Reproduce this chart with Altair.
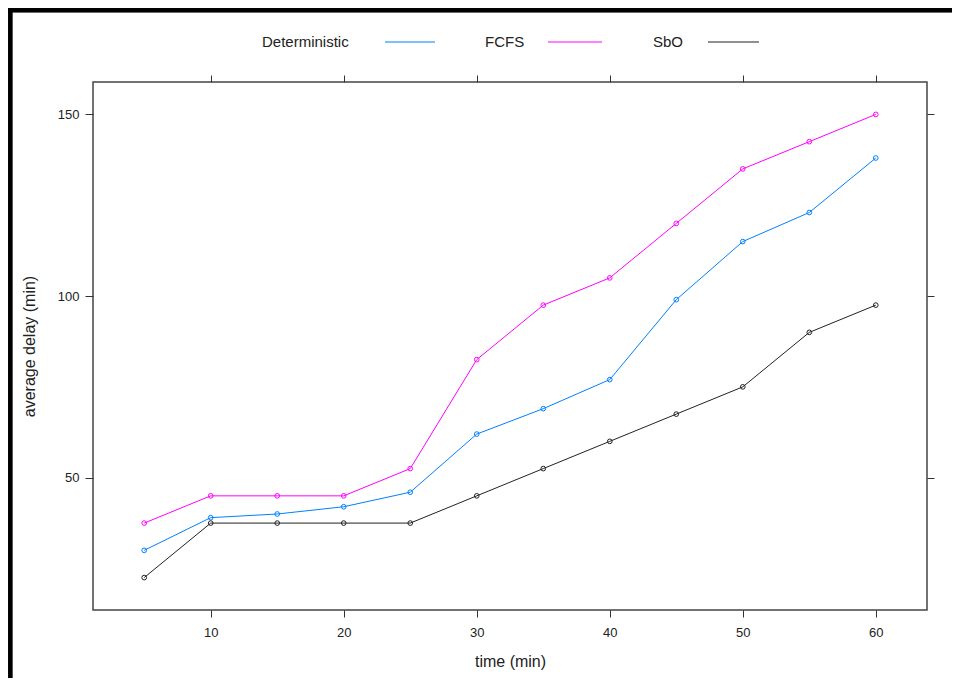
import altair as alt
import pandas as pd

times = [5, 10, 15, 20, 25, 30, 35, 40, 45, 50, 55, 60]
deterministic = [30, 39, 40, 42, 46, 62, 69, 77, 99, 115, 123, 138]
fcfs = [37.5, 45, 45, 45, 52.5, 82.5, 97.5, 105, 120, 135, 142.5, 150]
sbo = [22.5, 37.5, 37.5, 37.5, 37.5, 45, 52.5, 60, 67.5, 75, 90, 97.5]
series_names = ["Deterministic", "FCFS", "SbO"]
series_colors = ["#0080ff", "#ff00ff", "#222222"]
x_ticks = [10, 20, 30, 40, 50, 60]
y_ticks = [50, 100, 150]

rows = []
for name, vals in zip(series_names, [deterministic, fcfs, sbo]):
    for t, v in zip(times, vals):
        rows.append({"time": t, "delay": v, "series": name})
df = pd.DataFrame(rows)
legend_df = pd.DataFrame({"series": series_names})

FONT = "Liberation Sans"
W, H = 834, 528

xs = alt.Scale(domain=[1.15, 63.85], nice=False, zero=False)
ys = alt.Scale(domain=[13.575, 158.925], nice=False, zero=False)
cs = alt.Scale(domain=series_names, range=series_colors)

base = alt.Chart(df)

lines = base.mark_line(strokeWidth=1).encode(
    x=alt.X("time:Q", scale=xs,
            axis=alt.Axis(values=x_ticks, title="time (min)", grid=False, domain=False,
                          tickSize=7, tickColor="#333", labelColor="#222", labelFontSize=13,
                          labelPadding=9, titleFontSize=16, titleFontWeight="normal",
                          titleColor="#222", titlePadding=14, labelFont=FONT, titleFont=FONT)),
    y=alt.Y("delay:Q", scale=ys,
            axis=alt.Axis(values=y_ticks, title="average delay (min)", grid=False, domain=False,
                          tickSize=8, tickColor="#333", labelColor="#222", labelFontSize=13,
                          labelPadding=6, titleFontSize=16, titleFontWeight="normal",
                          titleColor="#222", titlePadding=20, labelFont=FONT, titleFont=FONT)),
    color=alt.Color("series:N", scale=cs, legend=None),
    detail="series:N",
)

points = base.mark_point(filled=False, size=22, strokeWidth=1, opacity=1).encode(
    x=alt.X("time:Q", scale=xs, axis=None),
    y=alt.Y("delay:Q", scale=ys, axis=None),
    color=alt.Color("series:N", scale=cs, legend=None),
)

# mirror axes (ticks only) on top and right
top_axis = alt.Chart(df).mark_point(opacity=0).encode(
    x=alt.X("time:Q", scale=xs,
            axis=alt.Axis(orient="top", values=x_ticks, labels=False, title=None, grid=False,
                          domain=False, tickSize=7, tickColor="#333")),
)
right_axis = alt.Chart(df).mark_point(opacity=0).encode(
    y=alt.Y("delay:Q", scale=ys,
            axis=alt.Axis(orient="right", values=y_ticks, labels=False, title=None, grid=False,
                          domain=False, tickSize=7, tickColor="#333")),
)

# manual lattice-style legend (text followed by a line sample)
idx = "indexof(['Deterministic','FCFS','SbO'], datum.series)"
legend_text = alt.Chart(legend_df).transform_calculate(
    lx=f"[169, 392, 560][{idx}]"
).mark_text(align="left", baseline="middle", font=FONT, fontSize=15, color="#222").encode(
    x=alt.X("lx:Q", scale=None, axis=None),
    y=alt.value(-40),
    text="series:N",
)
legend_lines = alt.Chart(legend_df).transform_calculate(
    l1=f"[292, 455, 615][{idx}]",
    l2=f"[342, 509, 666][{idx}]",
).mark_rule(strokeWidth=1).encode(
    x=alt.X("l1:Q", scale=None, axis=None),
    x2="l2:Q",
    y=alt.value(-40),
    color=alt.Color("series:N", scale=cs, legend=None),
)

# outer frame (top and left thick black edges)
frame_top = alt.Chart(legend_df).mark_rule(strokeWidth=4, color="black").encode(
    x=alt.value(-85), x2=alt.value(870), y=alt.value(-71.7)
)
frame_left = alt.Chart(legend_df).mark_rule(strokeWidth=4, color="black").encode(
    x=alt.value(-82.7), y=alt.value(-74), y2=alt.value(620)
)

chart = alt.layer(
    top_axis, right_axis, lines, points, legend_lines, legend_text, frame_top, frame_left
).resolve_axis(x="independent", y="independent").properties(
    width=W, height=H,
    autosize=alt.AutoSizeParams(type="none"),
    padding={"left": 85, "top": 74, "right": 25, "bottom": 68},
    background="white",
).configure_view(stroke="#444", strokeWidth=1.5)

chart.save("out.html", embed_options={"renderer": "svg", "actions": False})
